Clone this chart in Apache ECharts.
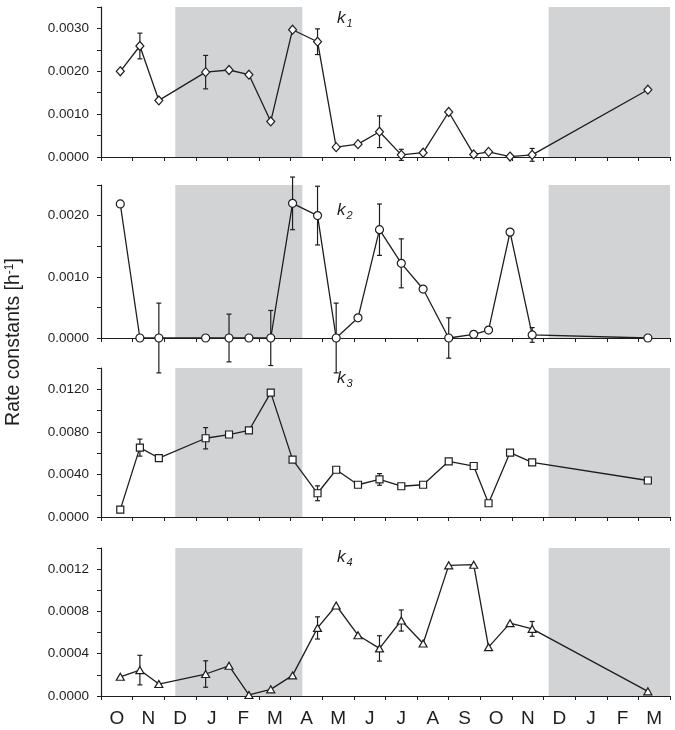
<!DOCTYPE html>
<html>
<head>
<meta charset="utf-8">
<script src="https://cdn.jsdelivr.net/npm/echarts@6/dist/echarts.min.js"></script>
<style>
html,body{margin:0;padding:0;background:#fff;}
#chart{width:675px;height:730px;}
</style>
</head>
<body>
<div id="chart"></div>
<script>
// Month tick labels (axis spans 18 months starting with October)
const months = ['O','N','D','J','F','M','A','M','J','J','A','S','O','N','D','J','F','M'];
// Sampling positions in months since the start of October
const samplePos = [0.61,1.23,1.83,3.31,4.05,4.68,5.37,6.06,6.85,7.44,8.13,8.81,9.50,10.19,11.00,11.79,12.26,12.94,13.64,17.30];
// Winter (shaded) periods, in months since start of October
const winter1 = [2.35, 6.37];
const winter2 = [14.16, 18];

const k1 = [0.00200,0.00259,0.00132,0.00198,0.00203,0.00192,0.00083,0.00297,0.00269,0.00023,0.00030,0.00059,0.00005,0.00010,0.00105,0.00006,0.00012,0.00001,0.00005,0.00157];
const k1Err = [null,0.00030,null,0.00039,null,null,null,null,0.00030,null,null,0.00037,0.00013,null,null,null,null,null,0.00015,null];

const k2 = [0.00219,0,0,0,0,0,0,0.00220,0.00200,0,0.00033,0.00177,0.00122,0.00080,0,0.00006,0.00013,0.00173,0.00005,0];
const k2Err = [null,null,0.00057,null,0.00039,null,0.00045,0.00043,0.00048,0.00057,null,0.00042,0.00040,null,0.00033,null,null,null,0.00012,null];

const k3 = [0.00069,0.00652,0.00554,0.00740,0.00775,0.00813,0.01169,0.00539,0.00223,0.00444,0.00303,0.00353,0.00289,0.00303,0.00523,0.00479,0.00129,0.00605,0.00513,0.00343];
const k3Err = [null,0.00080,null,0.00100,null,null,null,null,0.00070,null,null,0.00055,null,null,null,null,null,null,null,null];

const k4 = [0.000182,0.000245,0.000113,0.000208,0.000286,0.000010,0.000063,0.000195,0.000644,0.000856,0.000575,0.000450,0.000714,0.000497,0.001236,0.001242,0.000462,0.000689,0.000635,0.000044];
const k4Err = [null,0.000140,null,0.000125,null,null,null,null,0.000105,null,null,0.000120,0.000100,null,null,null,null,null,0.000070,null];

const yMax = [0.0035, 0.0025, 0.014, 0.0014];
const yStep = [0.0005, 0.0005, 0.002, 0.0002];

const panels = [
  {vals:k1, err:k1Err, symbol:'diamond', size:[8,9], label:'1'},
  {vals:k2, err:k2Err, symbol:'circle', size:8, label:'2'},
  {vals:k3, err:k3Err, symbol:'rect', size:7, label:'3'},
  {vals:k4, err:k4Err, symbol:'triangle', size:[8,7], label:'4'}
];

const FONT = '"Liberation Sans", Arial, Helvetica, sans-serif';
const INK = '#1e1e1e';
const SHADE = '#d1d3d5';

const gridTops = [7, 185, 368, 548];
const gridHeights = [150, 153, 149, 148];

const grids = gridTops.map((t,i)=>({left:101, right:5, top:t, height:gridHeights[i]}));

const xAxes = gridTops.map((t,i)=>({
  type:'value', gridIndex:i, min:0, max:18, interval:1,
  axisLine:{show:true, onZero:false, lineStyle:{color:INK, width:1.2}},
  axisTick:{show:true, inside:false, length:4, lineStyle:{color:INK, width:1}},
  axisLabel:{show:false},
  splitLine:{show:false}
}));
xAxes.push({
  type:'category', gridIndex:3, data:months, boundaryGap:true, position:'bottom',
  axisLine:{show:false}, axisTick:{show:false}, splitLine:{show:false},
  axisLabel:{show:true, fontSize:19, color:INK, fontFamily:FONT, margin:13, interval:0}
});

const yAxes = gridTops.map((t,i)=>({
  type:'value', gridIndex:i, min:0, max:yMax[i], interval:yStep[i],
  axisLine:{show:true, lineStyle:{color:INK, width:1.2}},
  axisTick:{show:true, inside:false, length:4, lineStyle:{color:INK, width:1}},
  axisLabel:{fontSize:13.5, color:INK, fontFamily:FONT, margin:12,
    formatter:(v,idx)=> (idx % 2 === 0 ? v.toFixed(4) : '')},
  splitLine:{show:false}
}));

const series = [];
panels.forEach((p,i)=>{
  // shading periods
  series.push({
    type:'line', xAxisIndex:i, yAxisIndex:i, data:[], silent:true, z:1,
    markArea:{silent:true, itemStyle:{color:SHADE}, data:[
      [{xAxis:winter1[0]},{xAxis:winter1[1]}],
      [{xAxis:winter2[0]},{xAxis:winter2[1]}]
    ]}
  });
  // error bars
  const errData = [];
  p.err.forEach((e,j)=>{ if(e!=null) errData.push([samplePos[j], p.vals[j], e]); });
  series.push({
    type:'custom', xAxisIndex:i, yAxisIndex:i, z:2, silent:true, clip:false,
    data:errData,
    encode:{x:0, y:1},
    renderItem:(params, api)=>{
      const x = api.value(0), y = api.value(1), e = api.value(2);
      const a = api.coord([x, y+e]);
      const b = api.coord([x, y-e]);
      const hw = 2.5;
      const st = {stroke:INK, lineWidth:1.2};
      return {type:'group', children:[
        {type:'line', shape:{x1:a[0], y1:a[1], x2:b[0], y2:b[1]}, style:st},
        {type:'line', shape:{x1:a[0]-hw, y1:a[1], x2:a[0]+hw, y2:a[1]}, style:st},
        {type:'line', shape:{x1:b[0]-hw, y1:b[1], x2:b[0]+hw, y2:b[1]}, style:st}
      ]};
    }
  });
  // data line
  series.push({
    type:'line', xAxisIndex:i, yAxisIndex:i, z:3,
    data: samplePos.map((x,j)=>[x, p.vals[j]]),
    symbol:p.symbol, symbolSize:p.size, showAllSymbol:true,
    lineStyle:{color:INK, width:1.3},
    itemStyle:{color:'#fff', borderColor:INK, borderWidth:1.2},
    animation:false
  });
});

const kTops = [8, 200, 368, 547];
const graphic = kTops.map((t,i)=>({
  type:'text', left:337, top:t, z:10,
  style:{
    text:'{k|k}{s|' + panels[i].label + '}',
    rich:{
      k:{fontSize:17, fontStyle:'italic', fontFamily:FONT, fill:INK, lineHeight:19},
      s:{fontSize:11, fontStyle:'italic', fontFamily:FONT, fill:INK, lineHeight:19, padding:[10,0,0,1]}
    }
  }
}));
graphic.push({
  type:'text', x:14, y:342, rotation:Math.PI/2, z:10,
  style:{
    text:'Rate constants [h{sup|-1}]',
    align:'center', verticalAlign:'middle',
    fontSize:19.5, fontFamily:FONT, fill:INK,
    rich:{ sup:{fontSize:12, fontFamily:FONT, fill:INK, padding:[0,0,9,0]} }
  }
});

const chart = echarts.init(document.getElementById('chart'), null, {renderer:'canvas'});
chart.setOption({
  animation:false,
  backgroundColor:'#fff',
  grid:grids,
  xAxis:xAxes,
  yAxis:yAxes,
  series:series,
  graphic:graphic
});
</script>
</body>
</html>
